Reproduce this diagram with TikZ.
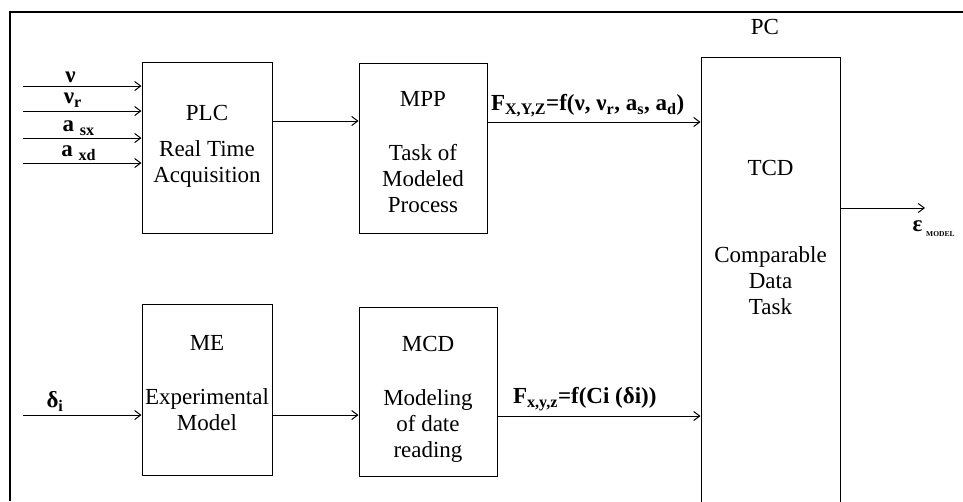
\documentclass[tikz,border=0pt]{standalone}
\usepackage{fontspec}
\setmainfont{Liberation Serif}
\usepackage{tikz}
\usetikzlibrary{arrows.meta,positioning}

\newcommand{\diagfont}{\fontsize{23}{26}\selectfont}

\begin{document}
\begin{tikzpicture}[->,>={Straight Barb[length=6pt,width=9pt]},x=1pt,y=-1pt,line width=1pt,
		block node/.style={rectangle, draw, minimum width=130pt, minimum height=171pt},
		text node/.style={align=center, font=\diagfont, inner sep=0pt},
		label node/.style={font=\diagfont\bfseries, inner sep=2pt}]

	\useasboundingbox (0,0) rectangle (963,501);
	\draw[-, line width=2.4pt] (963,12) -| (10,501);

	% boxes
 	\node[block node] (plc) at (207,147.5) {};
 	\node[block node, minimum width=128pt, minimum height=170pt] (mpp) at (423,148) {};
 	\node[block node] (me) at (207,389.5) {};
 	\node[block node, minimum width=138pt, minimum height=169pt] (mcd) at (428,391.5) {};
 	\node[block node, minimum width=139pt, minimum height=463pt] (tcd) at (770.5,288.5) {};

	% box texts
 	\node[text node] (plctext) at (207,146) {PLC\\[10pt]Real Time\\Acquisition};
 	\node[text node] (mpptext) at (423,152) {MPP\\[28pt]Task of\\Modeled\\Process};
 	\node[text node] (metext) at (207,383.5) {ME\\[28pt]Experimental\\Model};
 	\node[text node] (mcdtext) at (428,399) {MCD\\[28pt]Modeling\\of date\\reading};
 	\node[text node] (tcdtext) at (770.5,237) {TCD\\[61pt]Comparable\\Data\\Task};
 	\node[text node] (pc) at (765,27) {PC};

 	\coordinate (in1) at (23,86);
 	\coordinate (in2) at (23,111);
 	\coordinate (in3) at (23,138);
 	\coordinate (in4) at (23,163);
 	\coordinate (in5) at (23,415);
 	\coordinate[above=26.5pt of plc.east] (p1);
 	\coordinate[above=26pt of mpp.east] (p2);
 	\coordinate[below=25.5pt of me.east] (p3);
 	\coordinate[below=24.5pt of mcd.east] (p4);
 	\coordinate[above=80.5pt of tcd.east] (p5);
 	\coordinate (out) at (925,208);

		\path	(in1)	edge node[label node, above=1pt, pos=0.4]{ν} (in1 -| plc.west);
		\path	(in2)	edge node[label node, above=1pt, pos=0.42]{ν\textsubscript{r}} (in2 -| plc.west);
		\path	(in3)	edge node[label node, above, pos=0.47]{a \textsubscript{sx}} (in3 -| plc.west);
		\path	(in4)	edge node[label node, above, pos=0.47]{a \textsubscript{xd}} (in4 -| plc.west);
		\path	(in5)	edge node[label node, above=1pt, pos=0.27]{δ\textsubscript{i}} (in5 -| me.west);
		\path	(p1)	edge (p1 -| mpp.west);
		\path	(p2)	edge node[label node, above=3pt, pos=0.47]{F\textsubscript{X,Y,Z}=f(ν, ν\textsubscript{r}, a\textsubscript{s}, a\textsubscript{d})} (p2 -| tcd.west);
		\path	(p3)	edge (p3 -| mcd.west);
		\path	(p4)	edge node[label node, above=3pt, pos=0.43]{F\textsubscript{x,y,z}=f(Ci (δi))} (p4 -| tcd.west);
		\path	(p5)	edge (out);
	\node[label node, anchor=west, inner sep=0pt] (eps) at (912,229) {ε\,{\fontsize{7.5}{8}\selectfont\raisebox{-5pt}{MODEL}}};
\end{tikzpicture}
\end{document}
